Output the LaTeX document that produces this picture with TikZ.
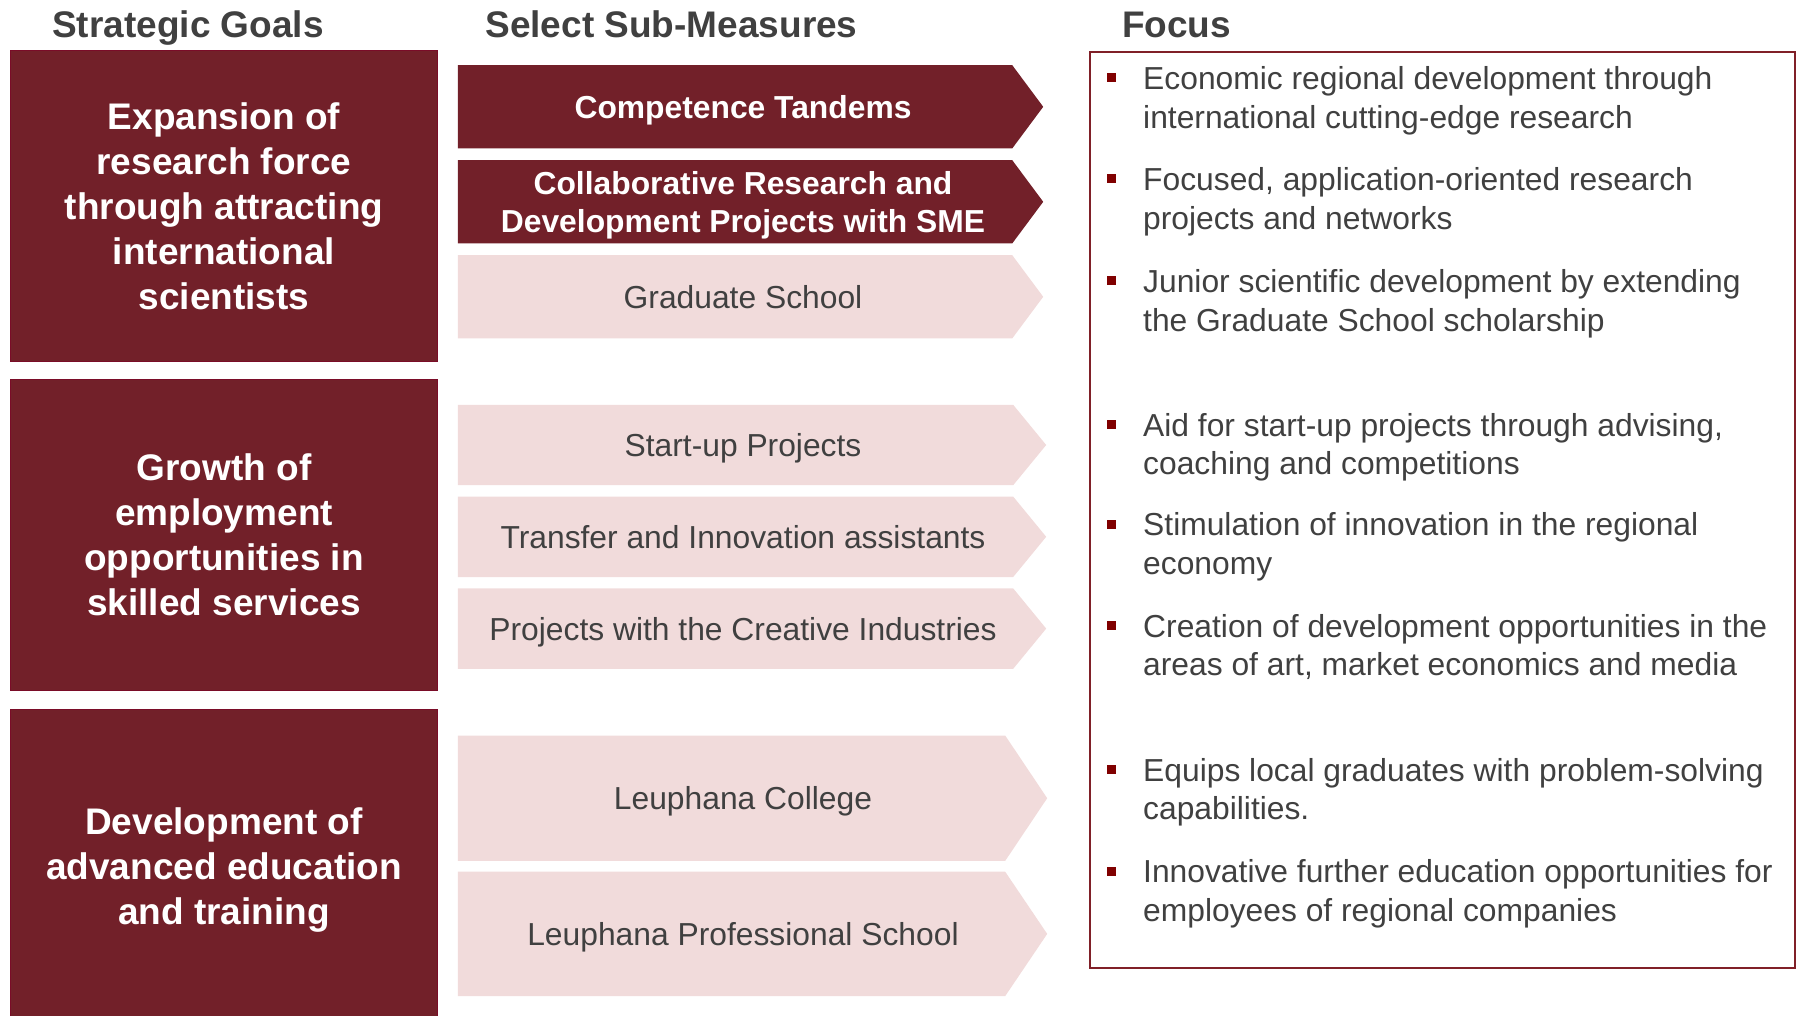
\documentclass[tikz,border=0pt]{standalone}
\usepackage{fontspec}
\setmainfont{Liberation Sans}
\usetikzlibrary{positioning,backgrounds}

\definecolor{goalred}{RGB}{114,32,41}
\definecolor{goaledge}{RGB}{122,12,40}
\definecolor{softpink}{RGB}{241,219,219}
\definecolor{textgray}{RGB}{64,64,64}
\definecolor{bulletred}{RGB}{128,0,0}
\definecolor{focusred}{RGB}{128,32,40}

\newcommand{\goalfont}{\fontsize{37}{45}\selectfont\bfseries}
\newcommand{\headfont}{\fontsize{37}{44}\selectfont\bfseries}
\newcommand{\chevboldfont}{\fontsize{31.8}{38}\selectfont\bfseries}
\newcommand{\chevfont}{\fontsize{31.8}{38}\selectfont}
\newcommand{\itemfont}{\fontsize{31.8}{38.5}\selectfont}

\tikzstyle{goal} = [rectangle, fill=goalred, draw=goaledge, line width=1pt, minimum width=427pt, minimum height=311pt, text=white, font=\goalfont, align=center, inner sep=0pt, text depth=0pt]
\tikzstyle{chevdark} = [rectangle, minimum width=570pt, text=white, font=\chevboldfont, align=center, inner sep=0pt, text depth=0pt]
\tikzstyle{chevlight} = [rectangle, minimum width=570pt, text=textgray, font=\chevfont, align=center, inner sep=0pt, text depth=0pt]
\tikzstyle{head} = [anchor=base, text=textgray, font=\headfont, inner sep=0pt]
\tikzstyle{item} = [anchor=base west, align=left, text=textgray, font=\itemfont, inner sep=0pt]
\tikzstyle{sq} = [rectangle, fill=bulletred, minimum size=9pt, inner sep=0pt]

% chevron body behind a node: name, cut of the body, depth of the tip, colour
\newcommand{\chevfill}[4]{\fill[#4] (#1.north west) -- ([xshift=-#2]#1.north east) -- ([xshift=#3]#1.east) -- ([xshift=-#2]#1.south east) -- (#1.south west) -- cycle;}

\begin{document}
\begin{tikzpicture}[x=1pt, y=-1pt, node distance=95pt]
\useasboundingbox (0,0) rectangle (1797,1016);

\node (hgoals) [head] at (188,37.5) {Strategic Goals};
\node (hmeasures) [head] at (671.5,37.5) {Select Sub-Measures};
\node (hfocus) [head, anchor=base west] at (1122,37.5) {Focus};

\node (research) [goal] at (224,205.7) {Expansion of\\research force\\through attracting\\international\\scientists};
\node (employ) [goal, below of=research, node distance=328.8pt] {Growth of\\employment\\opportunities in\\skilled services};
\node (educate) [goal, minimum height=315pt, below of=employ, node distance=332pt] {Development of\\advanced education\\and training};

\node (tandem) [chevdark, minimum height=83pt] at (743,106.8) {Competence Tandems};
\node (collab) [chevdark, minimum height=83pt, below of=tandem] {Collaborative Research and\\Development Projects with SME};
\node (gradschool) [chevlight, minimum height=83pt, below of=collab] {Graduate School};

\node (startup) [chevlight, minimum height=80pt] at (743,445) {Start-up Projects};
\node (transfer) [chevlight, minimum height=80pt, below of=startup, node distance=91.8pt] {Transfer and Innovation assistants};
\node (creative) [chevlight, minimum height=80pt, below of=transfer, node distance=91.8pt] {Projects with the Creative Industries};

\node (college) [chevlight, minimum height=125pt] at (743,798.2) {Leuphana College};
\node (proschool) [chevlight, minimum height=124pt, below of=college, node distance=135.7pt] {Leuphana Professional School};

\begin{pgfonlayer}{background}
\chevfill{tandem}{16pt}{15pt}{goalred}
\chevfill{collab}{16pt}{15pt}{goalred}
\chevfill{gradschool}{16pt}{15pt}{softpink}
\chevfill{startup}{15pt}{18pt}{softpink}
\chevfill{transfer}{15pt}{18pt}{softpink}
\chevfill{creative}{15pt}{18pt}{softpink}
\chevfill{college}{23pt}{19pt}{softpink}
\chevfill{proschool}{23pt}{19pt}{softpink}
\end{pgfonlayer}

\node (focus) [rectangle, draw=focusred, line width=2pt, minimum width=705pt, minimum height=916pt, anchor=north west] at (1089,51) {};

% base of an item is the baseline of its last line
\node (f1) [item] at (1143,128.2) {Economic regional development through\\international cutting-edge research};
\node (f2) [item] at (1143,229.2) {Focused, application-oriented research\\projects and networks};
\node (f3) [item] at (1143,331.2) {Junior scientific development by extending\\the Graduate School scholarship};
\node (f4) [item] at (1143,474.8) {Aid for start-up projects through advising,\\coaching and competitions};
\node (f5) [item] at (1143,574.2) {Stimulation of innovation in the regional\\economy};
\node (f6) [item] at (1143,675.6) {Creation of development opportunities in the\\areas of art, market economics and media};
\node (f7) [item] at (1143,819.7) {Equips local graduates with problem-solving\\capabilities.};
\node (f8) [item] at (1143,921.2) {Innovative further education opportunities for\\employees of regional companies};

\node (b1) [sq] at ([xshift=-31.5pt, yshift=50.2pt]f1.base west) {};
\node (b2) [sq] at ([xshift=-31.5pt, yshift=50.2pt]f2.base west) {};
\node (b3) [sq] at ([xshift=-31.5pt, yshift=50.2pt]f3.base west) {};
\node (b4) [sq] at ([xshift=-31.5pt, yshift=50.2pt]f4.base west) {};
\node (b5) [sq] at ([xshift=-31.5pt, yshift=50.2pt]f5.base west) {};
\node (b6) [sq] at ([xshift=-31.5pt, yshift=50.2pt]f6.base west) {};
\node (b7) [sq] at ([xshift=-31.5pt, yshift=50.2pt]f7.base west) {};
\node (b8) [sq] at ([xshift=-31.5pt, yshift=50.2pt]f8.base west) {};

\end{tikzpicture}
\end{document}
